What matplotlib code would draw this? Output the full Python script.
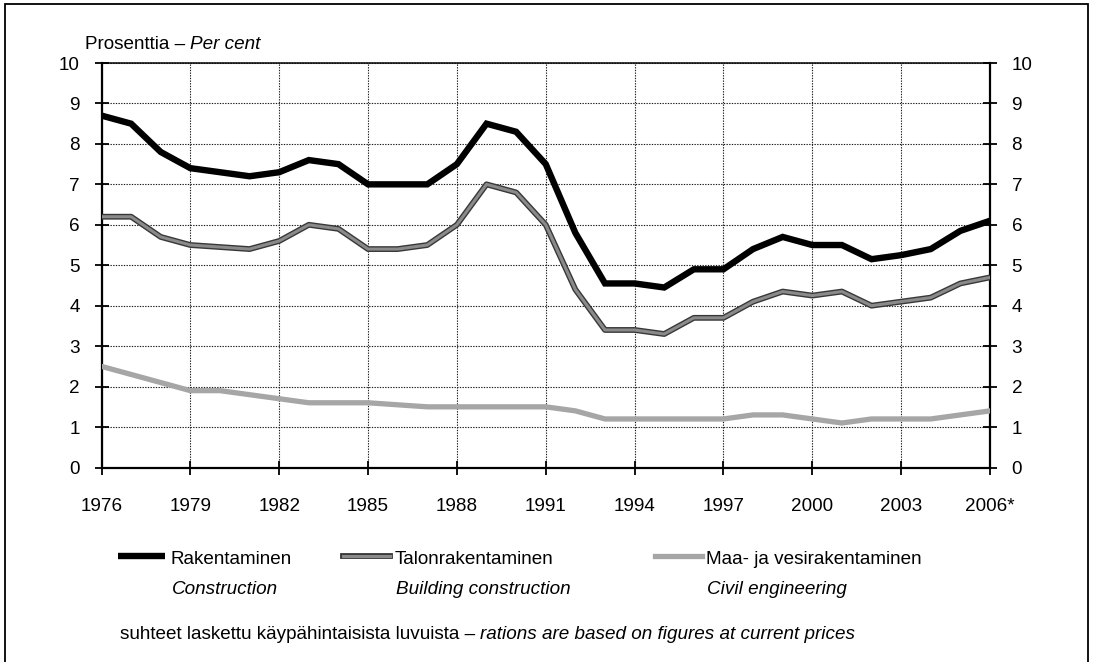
import matplotlib
matplotlib.use("Agg")
import matplotlib.pyplot as plt
import matplotlib.patheffects as pe
from matplotlib.lines import Line2D
from matplotlib.patches import Rectangle

years = list(range(1976, 2007))
rakentaminen = [8.7, 8.5, 7.8, 7.4, 7.3, 7.2, 7.3, 7.6, 7.5, 7.0,
                7.0, 7.0, 7.5, 8.5, 8.3, 7.5, 5.8, 4.55, 4.55, 4.45,
                4.9, 4.9, 5.4, 5.7, 5.5, 5.5, 5.15, 5.25, 5.4, 5.85, 6.1]
talonrakentaminen = [6.2, 6.2, 5.7, 5.5, 5.45, 5.4, 5.6, 6.0, 5.9, 5.4,
                     5.4, 5.5, 6.0, 7.0, 6.8, 6.0, 4.4, 3.4, 3.4, 3.3,
                     3.7, 3.7, 4.1, 4.35, 4.25, 4.35, 4.0, 4.1, 4.2, 4.55, 4.7]
maa_vesi = [2.5, 2.3, 2.1, 1.9, 1.9, 1.8, 1.7, 1.6, 1.6, 1.6,
            1.55, 1.5, 1.5, 1.5, 1.5, 1.5, 1.4, 1.2, 1.2, 1.2,
            1.2, 1.2, 1.3, 1.3, 1.2, 1.1, 1.2, 1.2, 1.2, 1.3, 1.4]

xtick_years = list(range(1976, 2007, 3))
xtick_labels = [str(y) for y in xtick_years[:-1]] + ["2006*"]
ytick_values = list(range(0, 11))

legend_fi = ["Rakentaminen", "Talonrakentaminen", "Maa- ja vesirakentaminen"]
legend_en = ["Construction", "Building construction", "Civil engineering"]

plt.rcParams['font.family'] = ['Liberation Sans', 'DejaVu Sans']
FS = 13.6

W, H = 1094, 662
fig = plt.figure(figsize=(W / 100, H / 100), dpi=100)

def fx(px):
    return px / W

def fy(py):
    return (H - py) / H

ax = fig.add_axes([fx(101.5), fy(467.5), fx(990) - fx(101.5), fy(63) - fy(467.5)])

# styles
blk_kw = dict(color='black', lw=4.6, solid_joinstyle='miter', solid_capstyle='butt')
bld_kw = dict(color='#8a8a8a', lw=2.2, solid_joinstyle='round',
              path_effects=[pe.Stroke(linewidth=4.2, foreground='#383838'), pe.Normal()])
civ_kw = dict(color='#a6a6a6', lw=3.8, solid_joinstyle='round')

ax.plot(years, maa_vesi, zorder=3, **civ_kw)
ax.plot(years, talonrakentaminen, zorder=4, **bld_kw)
ax.plot(years, rakentaminen, zorder=5, **blk_kw)

ax.set_xlim(1976, 2006)
ax.set_ylim(0, 10)
ax.set_xticks(xtick_years)
ax.set_xticklabels(xtick_labels)
ax.set_yticks(ytick_values)
ax.grid(True, color='#1a1a1a', linestyle=(0, (1.2, 1.2)), lw=0.8, zorder=1)
ax.set_axisbelow(True)

ax.tick_params(axis='both', direction='inout', length=10, width=1.3, labelsize=FS,
               colors='black')
ax.tick_params(axis='y', left=True, right=True, labelleft=True, labelright=True, pad=10.5)
ax.tick_params(axis='x', pad=17)

for side in ['left', 'bottom', 'right']:
    ax.spines[side].set_linewidth(1.6)
ax.spines['top'].set_linewidth(1.1)

# title
t = fig.text(fx(85), fy(49), "Prosenttia – ", fontsize=FS, va='baseline', ha='left')
fig.canvas.draw()
bb = t.get_window_extent()
fig.text(bb.x1 / W, fy(49), "Per cent", fontsize=FS, va='baseline', ha='left', style='italic')

# legend
line_x = [(118, 165), (343, 390), (655, 702)]
text_x = [171, 395, 706]
kws = [blk_kw, bld_kw, civ_kw]
for (x0, x1), tx, kw, fi, en in zip(line_x, text_x, kws, legend_fi, legend_en):
    ln = Line2D([fx(x0), fx(x1)], [fy(556), fy(556)], transform=fig.transFigure, **kw)
    fig.add_artist(ln)
    fig.text(fx(tx), fy(564), fi, fontsize=FS, va='baseline', ha='left')
    fig.text(fx(tx + 1), fy(594), en, fontsize=FS, va='baseline', ha='left', style='italic')

# footnote
f1 = fig.text(fx(120), fy(639), "suhteet laskettu käypähintaisista luvuista – ", fontsize=FS,
              va='baseline', ha='left')
fig.canvas.draw()
bb = f1.get_window_extent()
fig.text(bb.x1 / W, fy(639), "rations are based on figures at current prices", fontsize=FS,
         va='baseline', ha='left', style='italic')

# border (bottom edge lies just outside the image)
fig.add_artist(Rectangle((fx(5), fy(670)), fx(1088) - fx(5), fy(4) - fy(670),
                         transform=fig.transFigure, fill=False, edgecolor='black', lw=1.3))

fig.savefig("out.png", dpi=100)
